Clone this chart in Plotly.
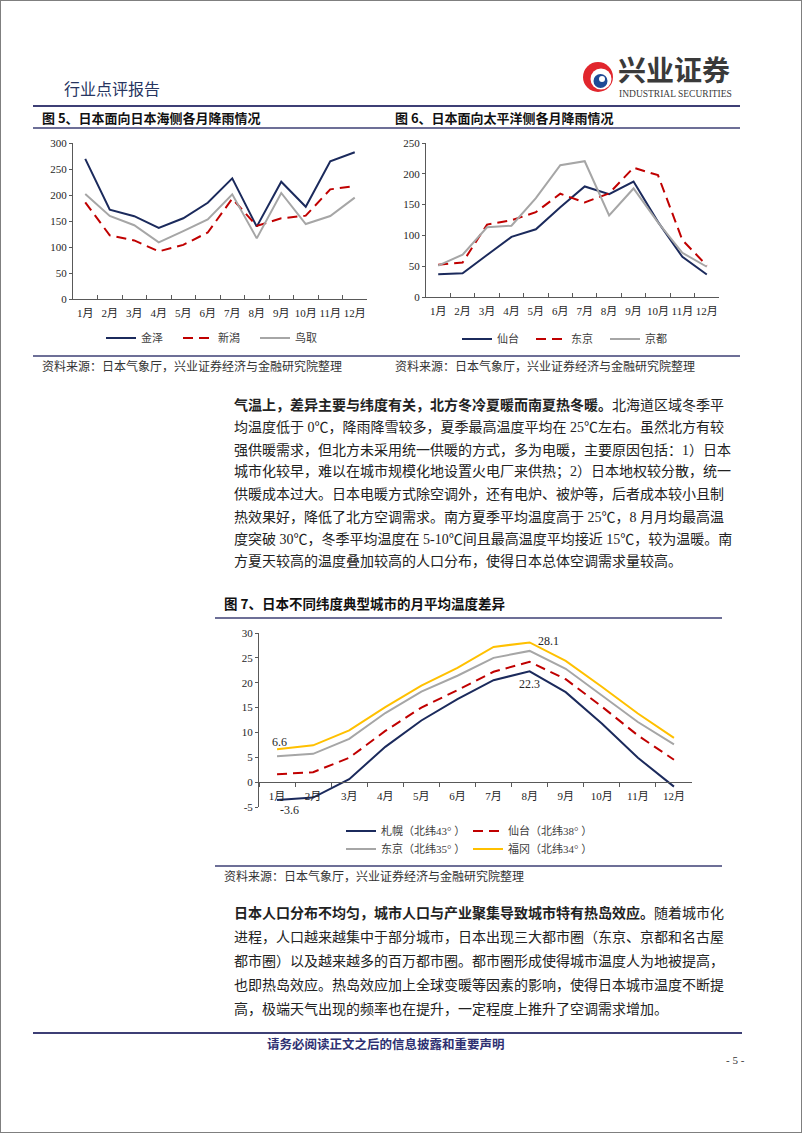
import plotly.graph_objects as go

W, H = 802, 1133


def PX(x):
    return x / W


def PY(y):
    return 1 - y / H


# ---------------- data ----------------
months = ["1月", "2月", "3月", "4月", "5月", "6月", "7月", "8月", "9月", "10月", "11月", "12月"]

# Fig 5: Sea of Japan side monthly precipitation (mm)
kanazawa = [269.6, 171.9, 159.2, 136.9, 155.2, 185.1, 231.9, 139.2, 225.5, 177.4, 264.9, 282.1]
niigata = [186.0, 122.4, 112.6, 91.6, 104.1, 127.9, 192.9, 140.6, 155.1, 160.3, 210.8, 217.4]
tottori = [202.0, 159.8, 141.9, 108.8, 130.6, 152.9, 201.2, 116.6, 203.9, 144.1, 159.5, 194.9]

# Fig 6: Pacific side monthly precipitation (mm)
sendai_rain = [37.0, 38.4, 68.2, 97.6, 109.9, 145.6, 179.4, 166.9, 187.5, 122.0, 65.1, 36.6]
tokyo_rain = [52.3, 56.1, 117.5, 124.5, 137.8, 167.7, 153.5, 168.2, 209.9, 197.8, 92.5, 51.0]
kyoto_rain = [50.8, 68.8, 113.2, 115.7, 160.4, 214.0, 220.4, 132.5, 176.2, 121.1, 71.7, 49.1]

# Fig 7: monthly mean temperature (deg C)
sapporo_t = [-3.6, -3.1, 0.6, 7.1, 12.4, 16.7, 20.5, 22.3, 18.1, 11.8, 4.9, -0.9]
sendai_t = [1.6, 2.0, 4.9, 10.3, 15.0, 18.5, 22.2, 24.2, 20.7, 15.2, 9.4, 4.5]
tokyo_t = [5.2, 5.7, 8.7, 13.9, 18.2, 21.4, 25.0, 26.4, 22.8, 17.5, 12.1, 7.6]
fukuoka_t = [6.6, 7.4, 10.4, 15.1, 19.4, 23.0, 27.2, 28.1, 24.4, 19.2, 13.8, 8.9]

temp_ticks = [-5, 0, 5, 10, 15, 20, 25, 30]
temp_ticktext = ["-5", "0", "5", "10", "15", "20", "25", "30"]

# ---------------- styles ----------------
NAVY = "#1b2a5c"
RED = "#c00000"
GRAY = "#a6a6a6"
GOLD = "#ffc000"
RULE = "#3d3f75"
AXIS = "#595959"
DASH = "10px,6px"
SERIF = "Liberation Serif, Noto Sans CJK SC"
CJK = "Noto Sans CJK SC"
TICKFONT = dict(family=SERIF, size=11, color="#262626")
LEGFONT = dict(family=SERIF, size=11, color="#404040")

fig = go.Figure()


def add(y, name, color, dash, ax, leg):
    fig.add_trace(go.Scatter(
        x=months, y=y, name=name, mode="lines",
        line=dict(color=color, width=2, dash=dash),
        xaxis="x" + ax, yaxis="y" + ax, legend=leg, hoverinfo="skip"))


add(kanazawa, "金泽", NAVY, "solid", "", "legend")
add(niigata, "新潟", RED, DASH, "", "legend")
add(tottori, "鸟取", GRAY, "solid", "", "legend")

add(sendai_rain, "仙台", NAVY, "solid", "2", "legend2")
add(tokyo_rain, "东京", RED, DASH, "2", "legend2")
add(kyoto_rain, "京都", GRAY, "solid", "2", "legend2")

add(sapporo_t, "札幌（北纬43° ）", NAVY, "solid", "3", "legend3")
add(sendai_t, "仙台（北纬38° ）", RED, DASH, "3", "legend3")
add(tokyo_t, "东京（北纬35° ）", GRAY, "solid", "3", "legend4")
add(fukuoka_t, "福冈（北纬34° ）", GOLD, "solid", "3", "legend4")


def xax(x0, x1, anchor, **kw):
    d = dict(domain=[PX(x0), PX(x1)], anchor=anchor, type="category",
             range=[-0.5, 11.5], tickson="boundaries", ticks="inside", ticklen=4,
             tickcolor=AXIS, showline=True, linecolor=AXIS, linewidth=1,
             showgrid=False, zeroline=False, tickfont=TICKFONT, tickangle=0,
             ticklabelstandoff=4, fixedrange=True)
    d.update(kw)
    return d


def yax(y0, y1, anchor, rng, **kw):
    d = dict(domain=[PY(y0), PY(y1)], anchor=anchor, range=rng,
             ticks="outside", ticklen=3, tickcolor=AXIS, showline=True,
             linecolor=AXIS, linewidth=1, showgrid=False, zeroline=False,
             tickfont=TICKFONT, fixedrange=True)
    d.update(kw)
    return d


def legend(x, y, ew):
    return dict(x=PX(x), y=PY(y), xanchor="left", yanchor="middle",
                orientation="h", entrywidth=ew, entrywidthmode="pixels",
                font=LEGFONT, bgcolor="rgba(0,0,0,0)", borderwidth=0,
                itemclick=False, itemdoubleclick=False)


shapes = []


def hline(y, x0, x1, color=RULE, width=1.5):
    shapes.append(dict(type="line", xref="paper", yref="paper",
                       x0=PX(x0), x1=PX(x1), y0=PY(y), y1=PY(y),
                       line=dict(color=color, width=width)))


def circle(cx, cy, r, color):
    shapes.append(dict(type="circle", xref="paper", yref="paper",
                       x0=PX(cx - r), x1=PX(cx + r), y0=PY(cy + r), y1=PY(cy - r),
                       fillcolor=color, line=dict(width=0)))


# page border
shapes.append(dict(type="rect", xref="paper", yref="paper", x0=0, x1=1, y0=0, y1=1,
                   line=dict(color="#7f7f7f", width=2)))
hline(106, 33, 740, width=2)
hline(128, 33, 740)
hline(356, 33, 740)
hline(618, 215, 722)
hline(866, 215, 722)
hline(1033, 33, 742, width=2)

# logo icon (approximation)
circle(598, 77, 15, "#e1262d")
circle(601, 79, 10.5, "white")
circle(600.5, 81, 7, "#1f4a96")
circle(602, 79, 3, "white")

ann = []


def text(x, y, s, size=12, color="#1a1a1a", family=CJK, xanchor="left", **kw):
    ann.append(dict(xref="paper", yref="paper", x=PX(x), y=PY(y), text=s,
                    showarrow=False, xanchor=xanchor, yanchor="middle",
                    font=dict(family=family, size=size, color=color), **kw))


# header
text(62, 88, "行业点评报告", size=16, color="#27355f")
text(616, 71, "<b>兴业证券</b>", size=28, color="#3a3a3a", family="Liberation Serif, Noto Sans CJK SC")
text(617, 94, "INDUSTRIAL SECURITIES", size=9.5, color="#3a3a3a", family="Liberation Serif")

# figure titles
text(40, 117, "<b>图 5、日本面向日本海侧各月降雨情况</b>", size=13, color="#111111")
text(393, 117, "<b>图 6、日本面向太平洋侧各月降雨情况</b>", size=13, color="#111111")
text(40, 366, "资料来源：日本气象厅，兴业证券经济与金融研究院整理", size=12, color="#333333")
text(393, 366, "资料来源：日本气象厅，兴业证券经济与金融研究院整理", size=12, color="#333333")

# paragraph 1
p1 = [
    "<b>气温上，差异主要与纬度有关，北方冬冷夏暖而南夏热冬暖。</b>北海道区域冬季平",
    "均温度低于 0℃，降雨降雪较多，夏季最高温度平均在 25℃左右。虽然北方有较",
    "强供暖需求，但北方未采用统一供暖的方式，多为电暖，主要原因包括：1）日本",
    "城市化较早，难以在城市规模化地设置火电厂来供热；2）日本地权较分散，统一",
    "供暖成本过大。日本电暖方式除空调外，还有电炉、被炉等，后者成本较小且制",
    "热效果好，降低了北方空调需求。南方夏季平均温度高于 25℃，8 月月均最高温",
    "度突破 30℃，冬季平均温度在 5-10℃间且最高温度平均接近 15℃，较为温暖。南",
    "方夏天较高的温度叠加较高的人口分布，使得日本总体空调需求量较高。",
]
for i, s in enumerate(p1):
    text(232, 405 + 22.3 * i, s, size=14, color="#222222", family=SERIF)

text(222, 603, "<b>图 7、日本不同纬度典型城市的月平均温度差异</b>", size=13.5, color="#111111")
text(222, 875, "资料来源：日本气象厅，兴业证券经济与金融研究院整理", size=12, color="#333333")

p2 = [
    "<b>日本人口分布不均匀，城市人口与产业聚集导致城市特有热岛效应。</b>随着城市化",
    "进程，人口越来越集中于部分城市，日本出现三大都市圈（东京、京都和名古屋",
    "都市圈）以及越来越多的百万都市圈。都市圈形成使得城市温度人为地被提高，",
    "也即热岛效应。热岛效应加上全球变暖等因素的影响，使得日本城市温度不断提",
    "高，极端天气出现的频率也在提升，一定程度上推升了空调需求增加。",
]
for i, s in enumerate(p2):
    text(232, 913 + 24 * i, s, size=14, color="#222222", family=SERIF)

# footer
text(386, 1043, "<b>请务必阅读正文之后的信息披露和重要声明</b>", size=12.5, color="#2e3172", xanchor="center")
text(735, 1060, "- 5 -", size=11, color="#333333", family="Liberation Serif", xanchor="center")

# data labels on fig 7
lab = dict(xref="x3", yref="y3", showarrow=False,
           font=dict(family="Liberation Serif", size=12, color="#262626"))
ann.append(dict(lab, x=months[0], y=fukuoka_t[0], text=f"{fukuoka_t[0]}", xshift=2, yshift=7))
ann.append(dict(lab, x=months[0], y=sapporo_t[0], text=f"{sapporo_t[0]}", xshift=12, yshift=-10))
ann.append(dict(lab, x=months[7], y=sapporo_t[7], text=f"{sapporo_t[7]}", xshift=0, yshift=-13))
ann.append(dict(lab, x=months[7], y=fukuoka_t[7], text=f"{fukuoka_t[7]}", xshift=19, yshift=1))

fig.update_layout(
    width=W, height=H,
    margin=dict(l=0, r=0, t=0, b=0, autoexpand=False),
    paper_bgcolor="white", plot_bgcolor="white",
    showlegend=True,
    xaxis=xax(73, 367, "y"),
    yaxis=yax(299, 143, "x", [0, 300], dtick=50),
    xaxis2=xax(426, 719, "y2"),
    yaxis2=yax(297, 143, "x2", [0, 250], dtick=50),
    xaxis3=xax(259, 692, "free", position=PY(782), ticks="outside"),
    yaxis3=yax(807, 633, "x3", [-5, 30], tickvals=temp_ticks, ticktext=temp_ticktext),
    legend=legend(101, 338, 32),
    legend2=legend(457, 339, 29),
    legend3=legend(341, 831, 82),
    legend4=legend(341, 849, 82),
    shapes=shapes,
    annotations=ann,
)

fig.write_html("out.html", config={"displayModeBar": False},
               post_script="document.body.style.margin='0px';")
